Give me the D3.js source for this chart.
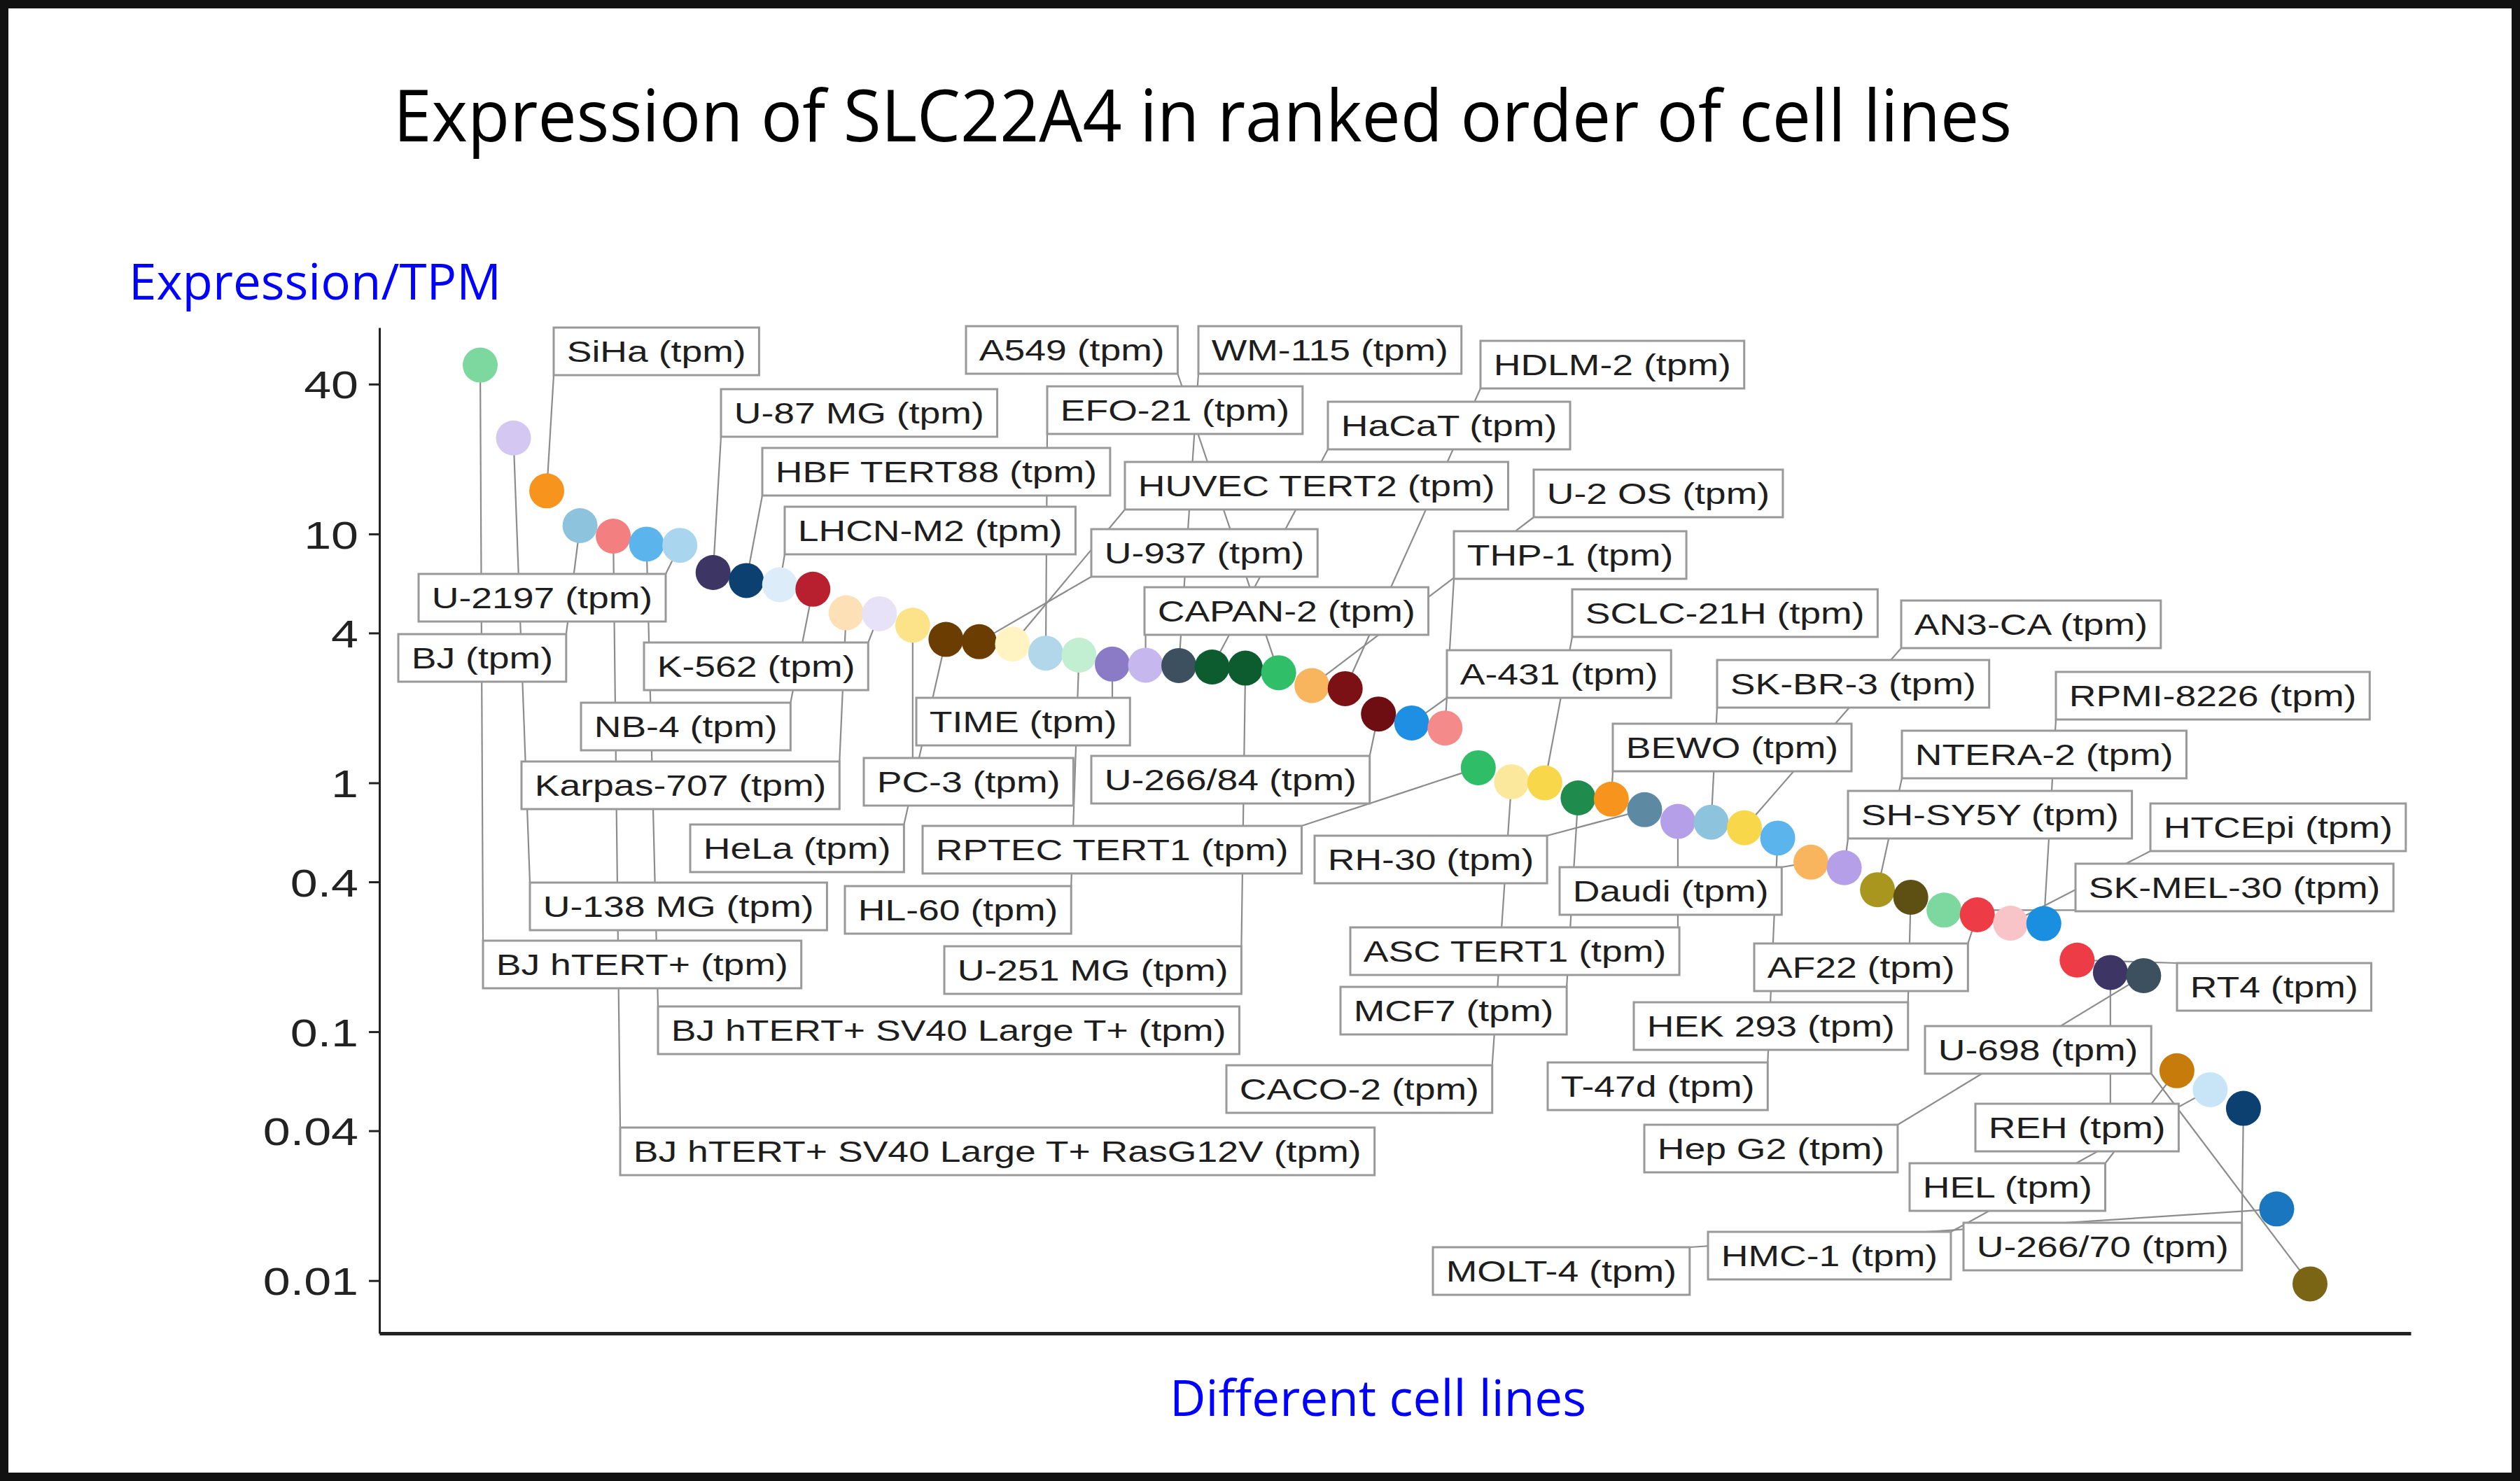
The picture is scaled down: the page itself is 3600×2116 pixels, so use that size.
<!DOCTYPE html>
<html><head><meta charset="utf-8">
<script src="https://cdn.jsdelivr.net/npm/d3@7"></script>
<style>body{margin:0;background:#fff}svg{display:block}</style>
</head><body>
<svg id="chart" width="3600" height="2116"></svg>
<script>
// ---- data (ranked order) ----
const cellLines = ["BJ hTERT+","U-138 MG","SiHa","BJ","BJ hTERT+ SV40 Large T+ RasG12V","BJ hTERT+ SV40 Large T+","U-2197","U-87 MG","HBF TERT88","LHCN-M2","NB-4","Karpas-707","K-562","PC-3","HeLa","U-937","HUVEC TERT2","EFO-21","HL-60","TIME","CAPAN-2","WM-115","HaCaT","U-251 MG","A549","U-2 OS","HDLM-2","U-266/84","A-431","THP-1","RPTEC TERT1","CACO-2","SCLC-21H","MCF7","BEWO","RH-30","ASC TERT1","SK-BR-3","AN3-CA","T-47d","Daudi","SH-SY5Y","NTERA-2","HEK 293","SK-MEL-30","AF22","HTCEpi","RPMI-8226","RT4","REH","Hep G2","HEL","HMC-1","U-266/70","MOLT-4","U-698"];
const tpmValues = [47.7,24.3,14.9,10.8,9.8,9.1,9.0,7.0,6.5,6.25,6.0,4.82,4.78,4.3,3.77,3.69,3.61,3.32,3.26,3.0,2.97,2.96,2.92,2.89,2.77,2.46,2.39,1.89,1.74,1.66,1.15,1.01,1.0,0.87,0.86,0.78,0.70,0.695,0.66,0.60,0.48,0.456,0.372,0.347,0.308,0.295,0.273,0.272,0.194,0.173,0.168,0.0697,0.0585,0.0492,0.0194,0.0097];
const pointColors = ["#7dd8a0","#d4c8f2","#f7941d","#8ec3dd","#f47f80","#5bb5ec","#a9d5ee","#3d3563","#0b4070","#dcecf8","#b8202f","#fde0b5","#e8e2f8","#fce38a","#6b3d02","#6b3d02","#fff4c2","#b3d7ea","#c2eed2","#8b7bc6","#c6b8ee","#3c5060","#0d5c2f","#0d5c2f","#30bf68","#f9b55e","#7b1115","#6e0e12","#1f8fe3","#f58a8a","#2fbe67","#fbe89c","#f8d74a","#1f8b4c","#f7941d","#5e89a3","#b59fe8","#8ec3dd","#f8d74a","#5bb5ec","#f9b55e","#b59fe8","#a8961f","#5e5012","#7dd8a0","#ee3c46","#f9c4c8","#1a8fe0","#ee3c46","#3d3563","#3c5060","#c67b0a","#c8e5f8","#0b4070","#1a76be","#7a6515"];
const yTicks = [40,10,4,1,0.4,0.1,0.04,0.01];
const yTickLabels = ["40","10","4","1","0.4","0.1","0.04","0.01"];
const yLimits = [0.00614, 67.5];

// ---- annotation layout: label box [left, centerY] in pixels, same order as cellLines ----
const labelLayout = [[690,1378],[757,1295],[791,502],[569,940],[886,1645],[940,1472],[598,854],[1030,590],[1089,674],[1121,758],[830,1038],[745,1122],[920,952],[1234,1117],[986,1212],[1559,790],[1607,694],[1496,586],[1207,1300],[1309,1031],[1635,873],[1712,500],[1897,608],[1349,1386],[1380,500],[2191,705],[2115,521],[1559,1114],[2067,963],[2077,793],[1318,1214],[1752,1556],[2246,876],[1915,1444],[2304,1068],[1878,1228],[1929,1359],[2453,977],[2716,892],[2211,1552],[2228,1273],[2640,1164],[2717,1078],[2334,1466],[2965,1268],[2506,1382],[3072,1182],[2937,994],[3110,1410],[2822,1611],[2349,1641],[2728,1696],[2440,1794],[2805,1781],[2047,1816],[2750,1500]];

const W = 3600, H = 2116;
const svg = d3.select("#chart");
svg.append("rect").attr("width", W).attr("height", H).attr("fill", "#fff");
svg.append("rect").attr("x", 6).attr("y", 6).attr("width", W - 12).attr("height", H - 12)
  .attr("fill", "none").attr("stroke", "#111").attr("stroke-width", 12);

const x = d3.scalePoint().domain(cellLines).range([542, 3444]).padding(3.03);
const y = d3.scaleLog().domain(yLimits).range([1905, 468]);

const SANS = "'Liberation Sans', Arial, sans-serif";
const TITLEF = "'Open Sans', 'Noto Sans', sans-serif";
const SX = 1.246, PAD = 18.7, BH = 68;

// titles
svg.append("text").attr("x", 562).attr("y", 202).attr("font-family", TITLEF).attr("font-size", 102)
  .attr("fill", "#000").attr("textLength", 2312).attr("lengthAdjust", "spacingAndGlyphs")
  .text("Expression of SLC22A4 in ranked order of cell lines");
svg.append("text").attr("x", 184).attr("y", 428).attr("font-family", TITLEF).attr("font-size", 71)
  .attr("fill", "#0000ff").attr("textLength", 532).attr("lengthAdjust", "spacingAndGlyphs")
  .text("Expression/TPM");
svg.append("text").attr("x", 1671).attr("y", 2023).attr("font-family", TITLEF).attr("font-size", 71)
  .attr("fill", "#0000ff").attr("textLength", 595).attr("lengthAdjust", "spacingAndGlyphs")
  .text("Different cell lines");

// axes
const TSX = 1.25;
const gy = svg.append("g").attr("transform", "translate(542,0)")
  .call(d3.axisLeft(y).tickValues(yTicks).tickFormat((d, i) => yTickLabels[i]).tickSize(15).tickSizeOuter(0));
gy.select(".domain").attr("stroke", "#222").attr("stroke-width", 3);
gy.selectAll(".tick line").attr("stroke", "#222").attr("stroke-width", 3);
gy.selectAll(".tick text").attr("font-family", SANS).attr("font-size", 56).attr("fill", "#222")
  .attr("x", -30 / TSX).attr("dy", "0.36em").attr("transform", `scale(${TSX},1)`);

const gx = svg.append("g").attr("transform", "translate(0,1905)")
  .call(d3.axisBottom(x).tickValues([]).tickSizeOuter(0));
gx.select(".domain").attr("stroke", "#222").attr("stroke-width", 5);

// layers
const gLines = svg.append("g");
const gLabels = svg.append("g");
const gPts = svg.append("g");

const nodes = cellLines.map((name, i) => ({
  name, v: tpmValues[i], color: pointColors[i], lx: labelLayout[i][0], ly: labelLayout[i][1]
}));

nodes.forEach(n => {
  const g = gLabels.append("g").attr("transform", `translate(${n.lx},${n.ly})`);
  const rect = g.append("rect");
  const t = g.append("text").text(n.name + " (tpm)")
    .attr("font-family", SANS).attr("font-size", 43).attr("fill", "#1e1e1e").attr("dy", "0.35em");
  const w = t.node().getComputedTextLength() * SX + 2 * PAD;
  t.attr("transform", `translate(${PAD},0) scale(${SX},1)`);
  rect.attr("x", 0).attr("y", -BH / 2).attr("width", w).attr("height", BH)
    .attr("fill", "#fff").attr("stroke", "#999").attr("stroke-width", 3);
  n.box = [n.lx, n.ly - BH / 2, n.lx + w, n.ly + BH / 2];
});

nodes.forEach(n => {
  const px = x(n.name), py = y(n.v);
  const [x1, y1, x2, y2] = n.box;
  const ax = Math.max(x1, Math.min(x2, px));
  const ay = Math.max(y1, Math.min(y2, py));
  gLines.append("line").attr("x1", px).attr("y1", py).attr("x2", ax).attr("y2", ay)
    .attr("stroke", "#8c8c8c").attr("stroke-width", 2.2);
});

gPts.selectAll("circle").data(nodes).join("circle")
  .attr("cx", d => x(d.name)).attr("cy", d => y(d.v)).attr("r", 25)
  .attr("fill", d => d.color);
</script>
</body></html>
